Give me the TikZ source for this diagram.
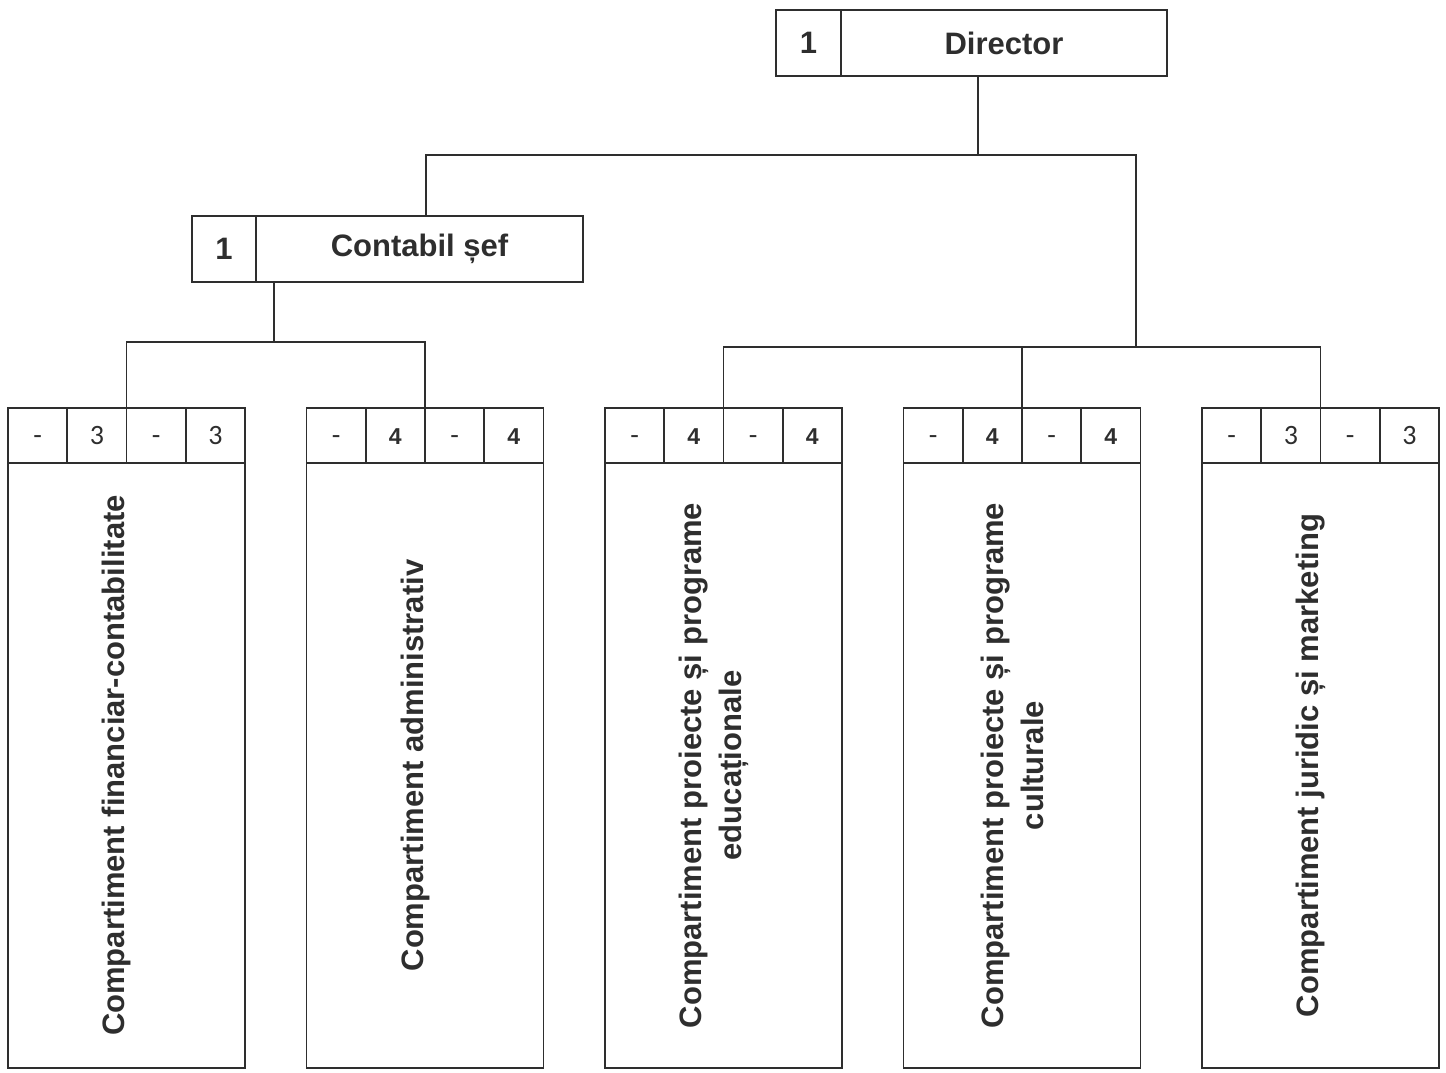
\documentclass[tikz,border=0pt]{standalone}
\usepackage{fontspec}
\setmainfont{Liberation Sans}
\newfontfamily\calfont{Carlito}
\usepackage{xcolor}
\definecolor{ink}{HTML}{2E2E2E}

\newcommand{\thinnum}{\calfont\fontsize{28}{30}\selectfont}
\newcommand{\boldnum}{\fontsize{23}{26}\selectfont\bfseries}

\tikzset{
  frame/.style={draw=ink, line width=1.7pt, inner sep=0pt, outer sep=0pt, text=ink},
  headbox/.style={frame, minimum height=66, anchor=north west, font=\fontsize{31}{36}\selectfont\bfseries},
  cell/.style={frame, minimum width=59.25, minimum height=55, anchor=north west, text height=17pt, text depth=0pt},
  deptbox/.style={frame, minimum width=237, minimum height=605, anchor=north west},
  depttext/.style={rotate=90, align=center, text=ink, inner sep=0pt, font=\fontsize{31}{40}\selectfont\bfseries},
  link/.style={draw=ink, line width=1.3pt}
}

\begin{document}
\begin{tikzpicture}[x=1pt, y=-1pt] %y runs downwards, units follow the scan
\useasboundingbox (0,0) rectangle (1446,1072);

\node[headbox, minimum width=65] (dirnum) at (776,10) {1};
\node[headbox, minimum width=326] (dir) at (dirnum.north east) {Director};
\node[headbox, minimum width=64] (contnum) at (192,216) {1};
\node[headbox, minimum width=327] (cont) at (contnum.north east) {Contabil șef};

\foreach \i/\n/\nf/\txt in {1/3/\thinnum/{Compartiment financiar-contabilitate},
    2/4/\boldnum/{Compartiment administrativ},
    3/4/\boldnum/{Compartiment proiecte și programe\\educaționale},
    4/4/\boldnum/{Compartiment proiecte și programe\\culturale},
    5/3/\thinnum/{Compartiment juridic și marketing}}{
  \pgfmathsetmacro{\xl}{8+298.5*(\i-1)}
  \node[cell] (h\i-1) at (\xl,408) {\thinnum -};
  \node[cell] (h\i-2) at (h\i-1.north east) {\nf \n};
  \node[cell] (h\i-3) at (h\i-2.north east) {\thinnum -};
  \node[cell] (h\i-4) at (h\i-3.north east) {\nf \n};
  \node[deptbox] (d\i) at (h\i-1.south west) {};
  \node[depttext] (t\i) at ([xshift=-10]d\i.center) {\txt};
}

\coordinate (jtop) at (978,155);
\coordinate (jleft) at (426,155);
\coordinate (jright) at (1136,155);
\coordinate (jright2) at (1136,347);
\coordinate (jcont) at (274,342);

\draw[link] (jtop |- dir.south) -- (jtop);
\draw[link] (jleft |- cont.north) -- (jleft) -- (jright) -- (jright2);
\draw[link] (jcont |- cont.south) -- (jcont);
\draw[link] (h1-2.north east) |- (jcont) -| (h2-2.north east);
\draw[link] (h3-2.north east) |- (jright2) -| (h5-2.north east);
\draw[link] (jright2 -| h4-2.north east) -- (h4-2.north east);
\end{tikzpicture}
\end{document}
